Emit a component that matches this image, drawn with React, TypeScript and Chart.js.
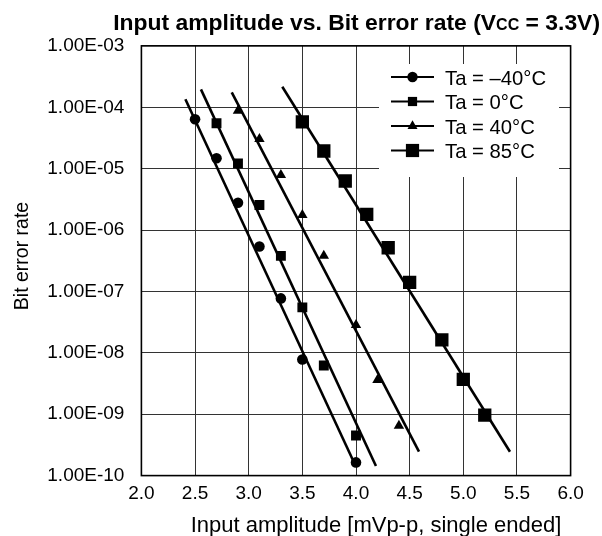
import React, { useEffect, useRef } from 'react';
import { Chart, registerables } from 'chart.js';

Chart.register(...registerables);

const FONT = '"Liberation Sans", Arial, Helvetica, sans-serif';

// ---- axis ticks ----
const xTickValues = [2.0, 2.5, 3.0, 3.5, 4.0, 4.5, 5.0, 5.5, 6.0];
const xTickLabels = ['2.0', '2.5', '3.0', '3.5', '4.0', '4.5', '5.0', '5.5', '6.0'];
const yTickValues = [1e-3, 1e-4, 1e-5, 1e-6, 1e-7, 1e-8, 1e-9, 1e-10];
const yTickLabels = ['1.00E-03', '1.00E-04', '1.00E-05', '1.00E-06', '1.00E-07', '1.00E-08', '1.00E-09', '1.00E-10'];

// ---- series ----
const seriesNames = ['Ta = \u201340\u00B0C', 'Ta = 0\u00B0C', 'Ta = 40\u00B0C', 'Ta = 85\u00B0C'];

const xMinus40 = [2.5, 2.7, 2.9, 3.1, 3.3, 3.5, 4.0];
const berMinus40 = [6.4e-5, 1.48e-5, 2.79e-6, 5.4e-7, 7.7e-8, 7.8e-9, 1.64e-10];

const x0 = [2.7, 2.9, 3.1, 3.3, 3.5, 3.7, 4.0];
const ber0 = [5.5e-5, 1.22e-5, 2.56e-6, 3.8e-7, 5.5e-8, 6.2e-9, 4.5e-10];

const x40 = [2.9, 3.1, 3.3, 3.5, 3.7, 4.0, 4.2, 4.4];
const ber40 = [8.8e-5, 3.04e-5, 7.9e-6, 1.76e-6, 3.8e-7, 2.84e-8, 3.6e-9, 6.5e-10];

const x85 = [3.5, 3.7, 3.9, 4.1, 4.3, 4.5, 4.8, 5.0, 5.2];
const ber85 = [5.8e-5, 1.94e-5, 6.3e-6, 1.8e-6, 5.15e-7, 1.41e-7, 1.62e-8, 3.7e-9, 9.7e-10];

// ---- fitted trend lines (end points) ----
const fitXMinus40 = [2.41, 4.0];
const fitYMinus40 = [1.35e-4, 1.39e-10];
const fitX0 = [2.555, 4.186];
const fitY0 = [1.96e-4, 1.43e-10];
const fitX40 = [2.842, 4.587];
const fitY40 = [1.75e-4, 2.45e-10];
const fitX85 = [3.313, 5.435];
const fitY85 = [2.16e-4, 2.45e-10];

const pts = (xs: number[], ys: number[]) => xs.map((x, i) => ({ x, y: ys[i] }));

type MarkerKind = 'circle' | 'rect' | 'triangle' | 'bigrect';
const markerKinds: MarkerKind[] = ['circle', 'rect', 'triangle', 'bigrect'];

function drawMarker(ctx: CanvasRenderingContext2D, kind: MarkerKind, x: number, y: number) {
  ctx.fillStyle = '#000';
  ctx.beginPath();
  if (kind === 'circle') {
    ctx.arc(x, y, 5.2, 0, Math.PI * 2);
  } else if (kind === 'rect') {
    ctx.rect(x - 4.6, y - 4.6, 9.2, 9.2);
  } else if (kind === 'triangle') {
    const r = 5.8;
    ctx.moveTo(x, y - r);
    ctx.lineTo(x + r * Math.sin((2 * Math.PI) / 3), y - r * Math.cos((2 * Math.PI) / 3));
    ctx.lineTo(x + r * Math.sin((4 * Math.PI) / 3), y - r * Math.cos((4 * Math.PI) / 3));
    ctx.closePath();
  } else {
    ctx.rect(x - 6.6, y - 6.6, 13.2, 13.2);
  }
  ctx.fill();
}

const decorPlugin = {
  id: 'decor',
  afterDraw(chart: any) {
    const ctx: CanvasRenderingContext2D = chart.ctx;
    const a = chart.chartArea;
    ctx.save();

    // plot frame
    ctx.strokeStyle = '#000';
    ctx.lineWidth = 1.6;
    ctx.strokeRect(a.left, a.top, a.right - a.left, a.bottom - a.top);

    // legend
    ctx.fillStyle = '#fff';
    ctx.fillRect(379, 64, 180, 113);
    const rows = [77, 101.5, 126, 150.5];
    rows.forEach((ry, i) => {
      ctx.strokeStyle = '#000';
      ctx.lineWidth = 2.2;
      ctx.beginPath();
      ctx.moveTo(391, ry);
      ctx.lineTo(434, ry);
      ctx.stroke();
      drawMarker(ctx, markerKinds[i], 412.5, ry);
      ctx.fillStyle = '#000';
      ctx.font = `20.3px ${FONT}`;
      ctx.textAlign = 'left';
      ctx.textBaseline = 'alphabetic';
      ctx.fillText(seriesNames[i], 445, ry + 7.8);
    });

    // title with small-caps "CC"
    const parts = [
      { t: 'Input amplitude vs. Bit error rate (V', s: 22.9 },
      { t: 'CC', s: 16 },
      { t: ' = 3.3V)', s: 22.9 },
    ];
    let total = 0;
    parts.forEach((p) => {
      ctx.font = `bold ${p.s}px ${FONT}`;
      total += ctx.measureText(p.t).width;
    });
    let tx = 600 - total;
    ctx.fillStyle = '#000';
    ctx.textAlign = 'left';
    ctx.textBaseline = 'alphabetic';
    parts.forEach((p) => {
      ctx.font = `bold ${p.s}px ${FONT}`;
      ctx.fillText(p.t, tx, 30);
      tx += ctx.measureText(p.t).width;
    });

    // x axis title
    ctx.font = `22px ${FONT}`;
    ctx.textAlign = 'center';
    ctx.fillText('Input amplitude [mVp-p, single ended]', 376, 531.5);

    // y axis title
    ctx.save();
    ctx.translate(28, 256);
    ctx.rotate(-Math.PI / 2);
    ctx.font = `19.5px ${FONT}`;
    ctx.textAlign = 'center';
    ctx.textBaseline = 'alphabetic';
    ctx.fillText('Bit error rate', 0, 0);
    ctx.restore();

    ctx.restore();
  },
};

export default function App() {
  const ref = useRef<HTMLCanvasElement | null>(null);

  useEffect(() => {
    if (!ref.current) return;
    const lineDs = (xs: number[], ys: number[]) => ({
      type: 'scatter' as const,
      data: pts(xs, ys),
      showLine: true,
      borderColor: '#000',
      borderWidth: 2.6,
      pointRadius: 0,
      fill: false,
    });
    const pointDs = (xs: number[], ys: number[], style: string, radius: number) => ({
      type: 'scatter' as const,
      data: pts(xs, ys),
      showLine: false,
      pointStyle: style,
      pointRadius: radius,
      pointBackgroundColor: '#000',
      pointBorderColor: '#000',
      pointBorderWidth: 0,
    });

    const chart = new Chart(ref.current, {
      type: 'scatter',
      data: {
        datasets: [
          lineDs(fitXMinus40, fitYMinus40),
          lineDs(fitX0, fitY0),
          lineDs(fitX40, fitY40),
          lineDs(fitX85, fitY85),
          pointDs(xMinus40, berMinus40, 'circle', 5.3),
          pointDs(x0, ber0, 'rect', 7),
          pointDs(x40, ber40, 'triangle', 6),
          pointDs(x85, ber85, 'rect', 9.4),
        ] as any,
      },
      options: {
        animation: false,
        responsive: false,
        devicePixelRatio: 1,
        events: [],
        layout: { padding: { left: 0, right: 31.4, top: 45.9, bottom: 0 } },
        plugins: {
          legend: { display: false },
          title: { display: false },
          tooltip: { enabled: false },
        },
        scales: {
          x: {
            type: 'linear',
            min: 2,
            max: 6,
            afterBuildTicks: (scale: any) => {
              scale.ticks = xTickValues.map((v) => ({ value: v }));
            },
            afterFit: (scale: any) => {
              scale.height = 60.4;
            },
            ticks: {
              padding: 6.5,
              color: '#000',
              font: { family: FONT, size: 19 },
              maxRotation: 0,
              callback: (v: any) => {
                const i = xTickValues.findIndex((t) => Math.abs(t - Number(v)) < 1e-6);
                return i >= 0 ? xTickLabels[i] : '';
              },
            },
            grid: { color: '#333', lineWidth: 1, drawTicks: false },
            border: { display: false },
          },
          y: {
            type: 'logarithmic',
            min: 1e-10,
            max: 1e-3,
            afterBuildTicks: (scale: any) => {
              scale.ticks = yTickValues.map((v) => ({ value: v, major: true }));
            },
            afterFit: (scale: any) => {
              scale.width = 141.4;
            },
            ticks: {
              padding: 17,
              color: '#000',
              font: { family: FONT, size: 19 },
              autoSkip: false,
              callback: (v: any) => {
                const lv = Math.log10(Number(v));
                const i = yTickValues.findIndex((t) => Math.abs(Math.log10(t) - lv) < 1e-6);
                return i >= 0 ? yTickLabels[i] : '';
              },
            },
            grid: { color: '#333', lineWidth: 1, drawTicks: false },
            border: { display: false },
          },
        },
      },
      plugins: [decorPlugin],
    });
    return () => chart.destroy();
  }, []);

  return (
    <div style={{ position: 'absolute', left: 0, top: 0, width: 602, height: 536, background: '#fff' }}>
      <canvas ref={ref} width={602} height={536} style={{ display: 'block' }} />
    </div>
  );
}
